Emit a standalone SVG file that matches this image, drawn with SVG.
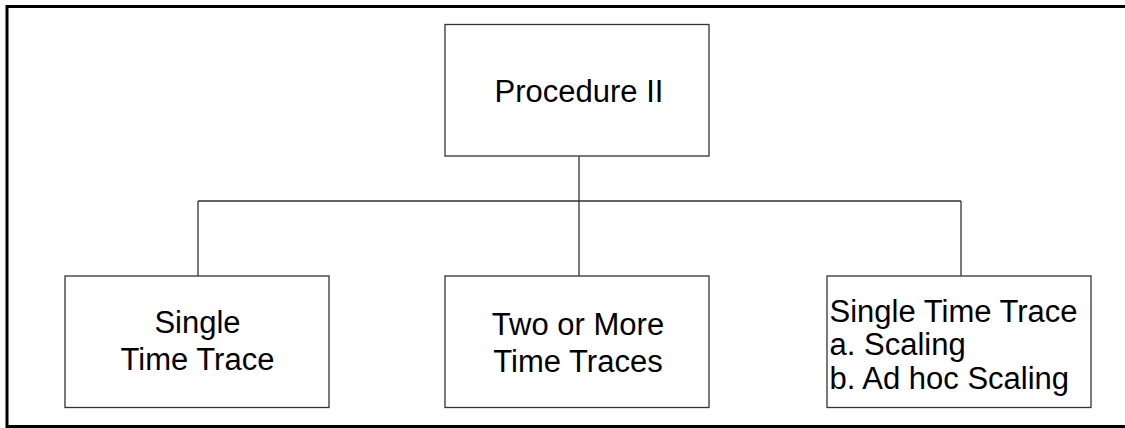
<svg xmlns="http://www.w3.org/2000/svg" width="1125" height="428" viewBox="0 0 1125 428">
<style>
.box{fill:#fff;stroke:#333;stroke-width:1.3}
.t{font-family:"Liberation Sans",Arial,sans-serif;font-size:31px;fill:#000}
.c{text-anchor:middle}
.conn{fill:none;stroke:#333;stroke-width:1.3}
</style>
<rect x="0" y="0" width="1125" height="428" fill="#fff"/>
<rect x="7" y="6.5" width="1140" height="420" fill="none" stroke="#000" stroke-width="3"/>
<g id="connectors">
<path class="conn" d="M579 156V201M198 201H961M198 201V276M579 201V276M961 201V276"/>
</g>
<g id="procedure">
<rect class="box" x="445" y="24.5" width="264" height="131.5"/>
<text class="t c" x="579" y="102">Procedure II</text>
</g>
<g id="single">
<rect class="box" x="65" y="276" width="264" height="131.5"/>
<text class="t c" x="197.5" y="333">Single</text>
<text class="t c" x="197.5" y="370">Time Trace</text>
</g>
<g id="two">
<rect class="box" x="445" y="276" width="264" height="131.5"/>
<text class="t c" x="578" y="334.5">Two or More</text>
<text class="t c" x="578" y="371.5">Time Traces</text>
</g>
<g id="scaling">
<rect class="box" x="827" y="276" width="264" height="131.5"/>
<text class="t" x="829.5" y="321.5">Single Time Trace</text>
<text class="t" x="829.5" y="355">a. Scaling</text>
<text class="t" x="829.5" y="388.5">b. Ad hoc Scaling</text>
</g>
</svg>
